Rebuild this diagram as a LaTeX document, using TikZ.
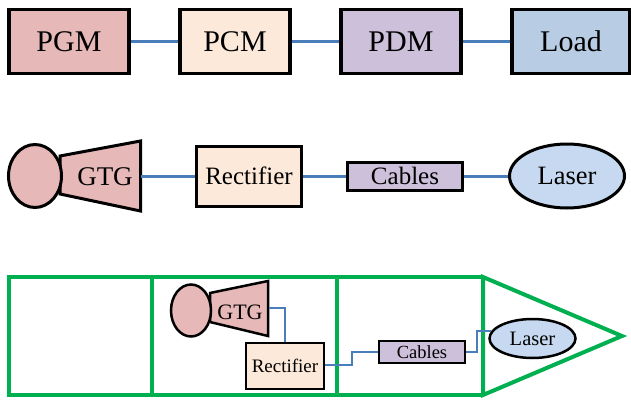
\documentclass[tikz,border=0pt]{standalone}
\usepackage{fontspec}
\setmainfont{Liberation Serif}
\newfontfamily\tnr{Liberation Serif}
\usetikzlibrary{shapes.geometric}
\definecolor{pgmc}{HTML}{E6B8B7}
\definecolor{pcmc}{HTML}{FDE9D9}
\definecolor{pdmc}{HTML}{CCC0DA}
\definecolor{loadc}{HTML}{B8CCE4}
\definecolor{laserc}{HTML}{C6D9F1}
\definecolor{wirec}{HTML}{4A7EBB}
\definecolor{hullc}{HTML}{00B050}
\newcommand{\fs}[1]{\tnr\fontsize{#1}{#1}\selectfont}
\tikzset{
  bigbox/.style={draw=black,line width=3.5pt,rectangle,inner sep=0pt,font=\fs{30}},
  midbox/.style={draw=black,line width=3pt,rectangle,inner sep=0pt},
  smallbox/.style={draw=black,line width=2.5pt,rectangle,inner sep=0pt},
  wire/.style={draw=wirec,line width=3pt},
  thinwire/.style={draw=wirec,line width=2pt},
  hull/.style={draw=hullc,line width=4pt,line join=miter},
}
\begin{document}
\begin{tikzpicture}[x=1pt,y=-1pt]
\useasboundingbox (0,0) rectangle (631,401);
% Row 1
\node[bigbox,fill=pgmc,minimum width=120pt,minimum height=64pt] (pgm) at (69,41.5) {PGM};
\node[bigbox,fill=pcmc,minimum width=110pt,minimum height=64pt] (pcm) at (235,41.5) {PCM};
\node[bigbox,fill=pdmc,minimum width=120pt,minimum height=64pt] (pdm) at (401,41.5) {PDM};
\node[bigbox,fill=loadc,minimum width=118pt,minimum height=64pt] (load) at (571,41.5) {Load};
\draw[wire] (pgm) -- (pcm);
\draw[wire] (pcm) -- (pdm);
\draw[wire] (pdm) -- (load);
% Row 2
\draw[fill=pgmc,line width=3pt,line join=miter] (60,156) -- (140.5,141) -- (140.5,211) -- (60,194) -- cycle;
\node[draw=black,fill=pgmc,line width=3pt,ellipse,minimum width=53pt,minimum height=63pt,inner sep=0pt] (gen) at (35,176) {};
\node[font=\fs{27},inner sep=0pt] (gtg) at (105,177) {GTG};
\coordinate (gtgr) at (141,176);
\node[midbox,fill=pcmc,minimum width=105pt,minimum height=60pt,font=\fs{25}] (rect) at (249,176) {Rectifier};
\node[midbox,fill=pdmc,minimum width=115pt,minimum height=28pt,font=\fs{25}] (cab) at (405,176) {Cables};
\node[draw=black,fill=laserc,line width=3pt,ellipse,minimum width=115pt,minimum height=64pt,inner sep=0pt,font=\fs{26.5}] (las) at (567,176) {Laser};
\draw[wire] (gtgr) -- (rect.west |- gtgr);
\draw[wire] (rect) -- (cab);
\draw[wire] (cab) -- (las);
% Row 3 hull
\draw[hull] (483,277) -- (9,277) -- (9,395) -- (483,395);
\draw[hull] (483,277) -- (622,336) -- (483,395) -- cycle;
\draw[hull] (152,277) -- (152,395);
\draw[hull] (337,277) -- (337,395);
% Row 3 contents
\draw[fill=pgmc,line width=2.5pt,line join=miter] (210,293) -- (268,281) -- (268,336) -- (210,322) -- cycle;
\node[draw=black,fill=pgmc,line width=2.5pt,ellipse,minimum width=40pt,minimum height=52pt,inner sep=0pt] (gens) at (191,310.5) {};
\node[font=\fs{22},inner sep=0pt] (gtgs) at (240,312) {GTG};
\coordinate (gtgsr) at (269,308);
\node[smallbox,fill=pcmc,minimum width=78pt,minimum height=46pt,font=\fs{19}] (rects) at (285,366) {Rectifier};
\node[smallbox,fill=pdmc,minimum width=86pt,minimum height=22pt,font=\fs{18.5}] (cabs) at (422,352) {Cables};
\node[draw=black,fill=laserc,line width=2.5pt,ellipse,minimum width=86pt,minimum height=39pt,inner sep=0pt,font=\fs{20.5}] (lass) at (532.5,338.5) {Laser};
\draw[thinwire] (gtgsr) -| (rects.north);
\draw[thinwire] (rects.east |- 0,365) -- (352,365) |- (cabs.west);
\draw[thinwire] (cabs.east) -- (477,352) |- (lass.170);
\end{tikzpicture}
\end{document}
